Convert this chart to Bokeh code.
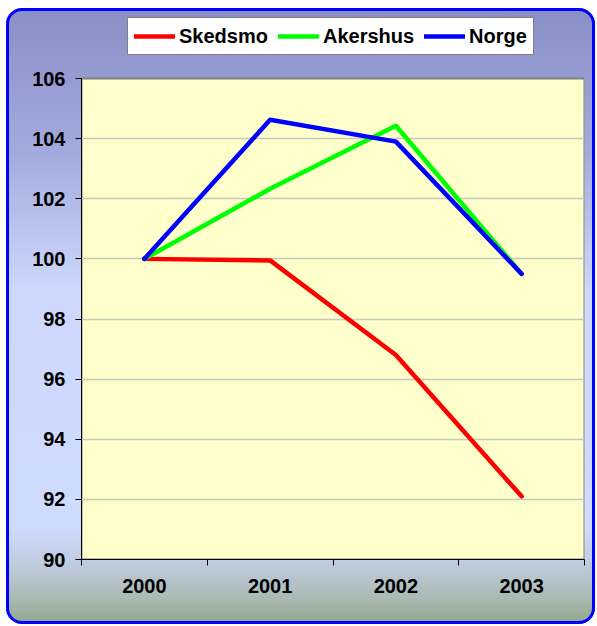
from bokeh.plotting import figure
from bokeh.models import Range1d, FixedTicker, Legend, LegendItem
from bokeh.embed import file_html
from bokeh.resources import INLINE

years = ["2000", "2001", "2002", "2003"]
skedsmo = [100.0, 99.95, 96.8, 92.1]
akershus = [100.0, 102.33, 104.43, 99.5]
norge = [100.0, 104.63, 103.9, 99.5]
y_ticks = [90, 92, 94, 96, 98, 100, 102, 104, 106]

x = [i + 0.5 for i in range(len(years))]

FONT = "Liberation Sans"

# frame is extended upward (to hold the legend); plot area remains 90..106
FRAME_H = 551
PLOT_H = 481
y_lo, y_hi = y_ticks[0], y_ticks[-1]
y_top = y_lo + (y_hi - y_lo) * FRAME_H / PLOT_H

p = figure(width=589, height=616, output_backend="svg", toolbar_location=None,
           x_range=Range1d(0, len(years)), y_range=Range1d(y_lo, y_top),
           min_border_left=75, min_border_right=11, min_border_top=0, min_border_bottom=65,
           styles={
               "margin-left": "6px",
               "margin-top": "8px",
               "background": "linear-gradient(to bottom, #8a8ec6 0%, #a2aadd 23%, #cdd8fc 46%, #d0dcff 84%, #c0cce0 90%, #a9b9b2 96%, #90a78b 100%)",
               "border-radius": "16px",
               "box-shadow": "inset 0 0 0 3px #0000ff",
           })
p.border_fill_alpha = 0
p.background_fill_alpha = 0
p.outline_line_color = None

# plot area (light yellow, grey outline)
p.quad(left=[0], right=[len(years)], bottom=[y_lo], top=[y_hi],
       fill_color="#ffffcc", line_color="#808080", line_width=2, level="image")

series = [("Skedsmo", skedsmo, "#ff0000"), ("Akershus", akershus, "#00ff00"), ("Norge", norge, "#0000ff")]
items = []
for name, vals, col in series:
    r = p.line(x, vals, line_color=col, line_width=4.5, line_join="round", line_cap="round")
    items.append(LegendItem(label=name, renderers=[r]))

# axes
xa = p.xaxis[0]
xa.ticker = FixedTicker(ticks=x, minor_ticks=list(range(len(years) + 1)))
xa.major_label_overrides = {xv: yr for xv, yr in zip(x, years)}
xa.major_tick_line_color = None
xa.major_tick_out = 6
xa.major_tick_in = 0
xa.minor_tick_out = 6
xa.minor_tick_in = 0
xa.minor_tick_line_color = "black"
xa.axis_line_color = "black"
xa.major_label_standoff = 13
xa.major_label_text_font = FONT
xa.major_label_text_font_style = "bold"
xa.major_label_text_font_size = "20px"
xa.major_label_text_color = "black"

ya = p.yaxis[0]
ya.ticker = FixedTicker(ticks=y_ticks)
ya.bounds = (y_lo, y_hi)
ya.major_tick_out = 6
ya.major_tick_in = 0
ya.minor_tick_line_color = None
ya.major_tick_line_color = "black"
ya.axis_line_color = "black"
ya.major_label_standoff = 10
ya.major_label_text_font = FONT
ya.major_label_text_font_style = "bold"
ya.major_label_text_font_size = "20px"
ya.major_label_text_color = "black"

p.xgrid.visible = False
p.ygrid.ticker = FixedTicker(ticks=y_ticks[1:-1])
p.ygrid.grid_line_color = "#c8c8c0"
p.ygrid.grid_line_width = 1.5

legend = Legend(items=items, orientation="horizontal", location=(46, 504),
                padding=6, spacing=10, margin=0, label_standoff=4,
                glyph_width=41, glyph_height=24, label_height=24,
                label_text_font=FONT, label_text_font_style="bold",
                label_text_font_size="20px", label_text_color="black",
                border_line_color="black", border_line_width=1,
                background_fill_color="white", background_fill_alpha=1)
p.add_layout(legend, "center")

open("out.html", "w").write(file_html(p, INLINE))
